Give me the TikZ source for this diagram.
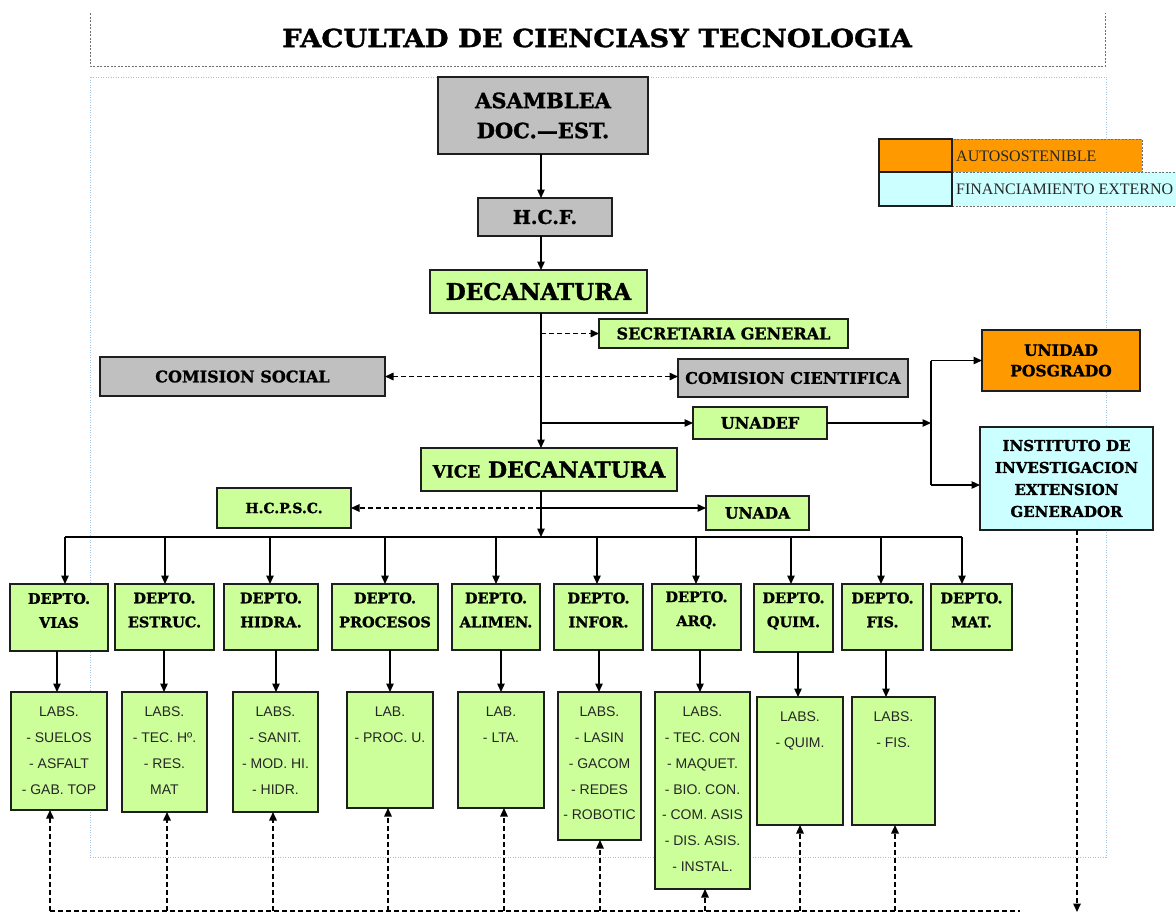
\documentclass[tikz,border=0pt]{standalone}
\usepackage{fontspec}
\usepackage{graphicx}
\setmainfont{Liberation Serif}
\newfontfamily\hvf[BoldFeatures={FakeBold=1.3}]{DejaVu Serif}
\newfontfamily\labf{Liberation Sans}
\usetikzlibrary{arrows.meta}
\definecolor{boxgreen}{HTML}{CCFF99}
\definecolor{boxgray}{HTML}{C0C0C0}
\definecolor{boxorange}{HTML}{FF9900}
\definecolor{boxcyan}{HTML}{CCFFFF}
\definecolor{edgecol}{HTML}{1E1E1E}
\definecolor{dotblue}{HTML}{9DC3E6}
\definecolor{titlegray}{HTML}{6E6E6E}
\newcommand\hb[2]{\fontsize{#1}{#2}\selectfont\hvf\bfseries}
\newcommand\bx[7]{\node[#6, anchor=north west, minimum width={(#4-#2)*1pt}, minimum height={(#5-#3)*1pt}] (#1) at (#2,#3) {#7};}
\tikzset{
  orgbox/.style={draw=edgecol, line width=1.6pt, inner sep=1pt, outer sep=0pt, align=center, text=black},
  gbox/.style={orgbox, fill=boxgreen},
  graybox/.style={orgbox, fill=boxgray},
  obox/.style={orgbox, fill=boxorange},
  cbox/.style={orgbox, fill=boxcyan},
  conn/.style={line width=1.3pt, draw=black},
  tip/.tip={Triangle[length=8.5pt,width=7.5pt]},
  arr/.style={conn, -tip},
  dconn/.style={line width=1.5pt, draw=black, dash pattern=on 5pt off 3pt},
  darr/.style={dconn, -tip},
  dtext/.style={align=center, inner sep=0pt, font=\hb{14.5}{24}},
  ltext/.style={align=center, inner sep=0pt, text=black!85, font=\labf\fontsize{14}{25.7}\selectfont},
  legs/.style={draw=edgecol, line width=1.3pt, inner sep=0pt, outer sep=0pt},
  legd/.style={draw=titlegray, line width=0.8pt, dash pattern=on 2pt off 1.5pt, inner sep=0pt, outer sep=0pt},
  legtext/.style={inner sep=0pt, text=black!85, font=\fontsize{16}{16}\selectfont},
}
\begin{document}
\begin{tikzpicture}[x=1pt, y=-1pt]
\useasboundingbox (0,0) rectangle (1176,914);
\fill[white] (0,0) rectangle (1176,914);
% title frame
\draw[titlegray, line width=0.8pt, dash pattern=on 2pt off 1.5pt] (90,13) -- (90,66) -- (1105,66) -- (1105,13);
\node[font=\hb{25}{25}] (title) at (597,38) {\scalebox{1.1}[1]{FACULTAD DE CIENCIASY TECNOLOGIA}};
% blue dotted frame
\draw[dotblue, line width=0.9pt, dash pattern=on 1pt off 1.5pt] (90,77) rectangle (1106,857);

% upper boxes
\bx{asam}{438}{77}{648}{154}{graybox, font=\hb{21}{30}}{ASAMBLEA\\DOC.—EST.}
\bx{hcf}{478}{198}{612}{236}{graybox, font=\hb{19}{19}}{H.C.F.}
\bx{dec}{430}{270}{647}{313}{gbox, font=\hb{23}{23}}{DECANATURA}
\bx{sec}{599}{319}{848}{348}{gbox, font=\hb{16}{16}}{SECRETARIA GENERAL}
\bx{cs}{100}{357}{385}{396}{graybox, font=\hb{16}{16}}{COMISION SOCIAL}
\bx{cc}{678}{359}{908}{397}{graybox, font=\hb{16}{16}}{COMISION CIENTIFICA}
\bx{unadef}{693}{407}{827}{439}{gbox, font=\hb{16}{16}}{UNADEF}
\bx{pos}{982}{330}{1140}{391}{obox, font=\hb{15.5}{20.5}}{UNIDAD\\POSGRADO}
\bx{inst}{980}{427}{1153}{530}{cbox, font=\hb{15}{22}}{INSTITUTO DE\\INVESTIGACION\\EXTENSION\\GENERADOR}
\bx{vice}{421}{448}{677}{491}{gbox, font=\hb{22}{22}}{{\fontsize{17}{17}\selectfont VICE} DECANATURA}
\bx{hcpsc}{217}{488}{351}{528}{gbox, font=\hb{14}{14}}{H.C.P.S.C.}
\bx{unada}{706}{496}{809}{530}{gbox, font=\hb{15.5}{15.5}}{UNADA}

% legend
\bx{lgb}{952}{139}{1142}{172}{legd, fill=boxorange}{}
\node[fill=boxcyan, anchor=north west, minimum width=224pt, minimum height=34pt, inner sep=0pt, outer sep=0pt] (lgd) at (952,172) {};
\draw[titlegray, line width=0.8pt, dash pattern=on 2pt off 1.5pt] (lgd.north west) -- (lgd.north east);
\draw[titlegray, line width=0.8pt, dash pattern=on 2pt off 1.5pt] (lgd.south west) -- (lgd.south east);
\bx{lga}{879}{139}{952}{172}{legs, fill=boxorange}{}
\bx{lgc}{879}{172}{952}{206}{legs, fill=boxcyan}{}
\node[legtext, anchor=west] (lta) at (956,156) {AUTOSOSTENIBLE};
\node[legtext, anchor=west] (ltb) at (956,189.5) {FINANCIAMIENTO EXTERNO};

% departments
\bx{d1}{10}{584}{108}{651}{gbox}{}
\bx{d2}{115}{584}{214}{650}{gbox}{}
\bx{d3}{224}{584}{318}{650}{gbox}{}
\bx{d4}{332}{584}{438}{650}{gbox}{}
\bx{d5}{452}{584}{540}{650}{gbox}{}
\bx{d6}{554}{584}{643}{650}{gbox}{}
\bx{d7}{652}{584}{741}{650}{gbox}{}
\bx{d8}{754}{584}{833}{652}{gbox}{}
\bx{d9}{842}{584}{923}{650}{gbox}{}
\bx{d10}{931}{584}{1012}{650}{gbox}{}
\node[dtext] (dt1) at ([yshift=7pt]d1.center) {DEPTO.\\VIAS};
\node[dtext] (dt2) at ([yshift=7pt]d2.center) {DEPTO.\\ESTRUC.};
\node[dtext] (dt3) at ([yshift=7pt]d3.center) {DEPTO.\\HIDRA.};
\node[dtext] (dt4) at ([yshift=7pt]d4.center) {DEPTO.\\PROCESOS};
\node[dtext] (dt5) at ([yshift=7pt]d5.center) {DEPTO.\\ALIMEN.};
\node[dtext] (dt6) at ([yshift=7pt]d6.center) {DEPTO.\\INFOR.};
\node[dtext] (dt7) at ([yshift=7pt]d7.center) {DEPTO.\\ARQ.};
\node[dtext] (dt8) at ([yshift=7pt]d8.center) {DEPTO.\\QUIM.};
\node[dtext] (dt9) at ([yshift=7pt]d9.center) {DEPTO.\\FIS.};
\node[dtext] (dt10) at ([yshift=7pt]d10.center) {DEPTO.\\MAT.};

% labs
\bx{l1}{11}{692}{107}{810}{gbox}{}
\bx{l2}{122}{692}{207}{812}{gbox}{}
\bx{l3}{233}{692}{318}{812}{gbox}{}
\bx{l4}{347}{692}{433}{808}{gbox}{}
\bx{l5}{458}{692}{544}{808}{gbox}{}
\bx{l6}{558}{692}{641}{840}{gbox}{}
\bx{l7}{655}{692}{750}{889}{gbox}{}
\bx{l8}{757}{697}{843}{825}{gbox}{}
\bx{l9}{852}{697}{935}{825}{gbox}{}
\node[ltext, anchor=north] (lt1) at ([yshift=-15pt]l1.north) {LABS.\\- SUELOS\\- ASFALT\\- GAB. TOP};
\node[ltext, anchor=north] (lt2) at ([yshift=-15pt]l2.north) {LABS.\\- TEC. Hº.\\- RES.\\MAT};
\node[ltext, anchor=north] (lt3) at ([yshift=-15pt]l3.north) {LABS.\\- SANIT.\\- MOD. HI.\\- HIDR.};
\node[ltext, anchor=north] (lt4) at ([yshift=-15pt]l4.north) {LAB.\\- PROC. U.};
\node[ltext, anchor=north] (lt5) at ([yshift=-15pt]l5.north) {LAB.\\- LTA.};
\node[ltext, anchor=north] (lt6) at ([yshift=-15pt]l6.north) {LABS.\\- LASIN\\- GACOM\\- REDES\\- ROBOTIC};
\node[ltext, anchor=north] (lt7) at ([yshift=-15pt]l7.north) {LABS.\\- TEC. CON\\- MAQUET.\\- BIO. CON.\\- COM. ASIS\\- DIS. ASIS.\\- INSTAL.};
\node[ltext, anchor=north] (lt8) at ([yshift=-15pt]l8.north) {LABS.\\- QUIM.};
\node[ltext, anchor=north] (lt9) at ([yshift=-15pt]l9.north) {LABS.\\- FIS.};

% coordinates
\coordinate (tx) at (541,0);
\coordinate (jx) at (931,0);
\coordinate (ia) at (931,485);
\coordinate (hy) at (541,508);
\coordinate (busc) at (541,537);
\coordinate (busl) at (65,537);
\coordinate (busr) at (962,537);
\foreach \i/\kx in {1/65,2/165,3/270,4/385,5/496,6/597,7/696,8/791,9/881,10/962}{
  \coordinate (k\i) at (\kx,537);
}
\foreach \i/\mx in {1/57,2/164,3/276,4/390,5/501,6/599,7/700,8/798,9/886}{
  \coordinate (m\i) at (\mx,0);
}
\foreach \i/\bxx in {1/50,2/167,3/273,4/388,5/504,6/600,7/705,8/800,9/895}{
  \coordinate (b\i) at (\bxx,911);
}
\coordinate (bend) at (1020,911);
\coordinate (ie) at (1077,912);

% connectors
\draw[arr] (asam.south -| tx) -- (hcf.north -| tx);
\draw[arr] (hcf.south -| tx) -- (dec.north -| tx);
\draw[arr] (dec.south -| tx) -- (vice.north -| tx);
\draw[darr] (tx |- sec.west) -- (sec.west);
\draw[dconn, tip-tip] (cs.east) -- (cs.east -| cc.west);
\draw[arr] (tx |- unadef.west) -- (unadef.west);
\draw[arr] (unadef.east) -- (jx |- unadef.east);
\draw[conn] (jx |- pos.west) -- (ia);
\draw[arr] (jx |- pos.west) -- (pos.west);
\draw[arr] (ia) -- (ia -| inst.west);
\draw[arr] (vice.south -| tx) -- (busc);
\draw[darr] (hy) -- (hy -| hcpsc.east);
\draw[arr] (hy) -- (hy -| unada.west);
\draw[conn] (busl) -- (busr);
\foreach \i in {1,...,10}{
  \draw[arr] (k\i) -- (k\i |- d\i.north);
}
\foreach \i in {1,...,9}{
  \draw[arr] (m\i |- d\i.south) -- (m\i |- l\i.north);
  \draw[darr] (b\i) -- (b\i |- l\i.south);
}
\draw[dconn] (b1) -- (bend);
\draw[darr] (inst.south -| ie) -- (ie);
\end{tikzpicture}
\end{document}
